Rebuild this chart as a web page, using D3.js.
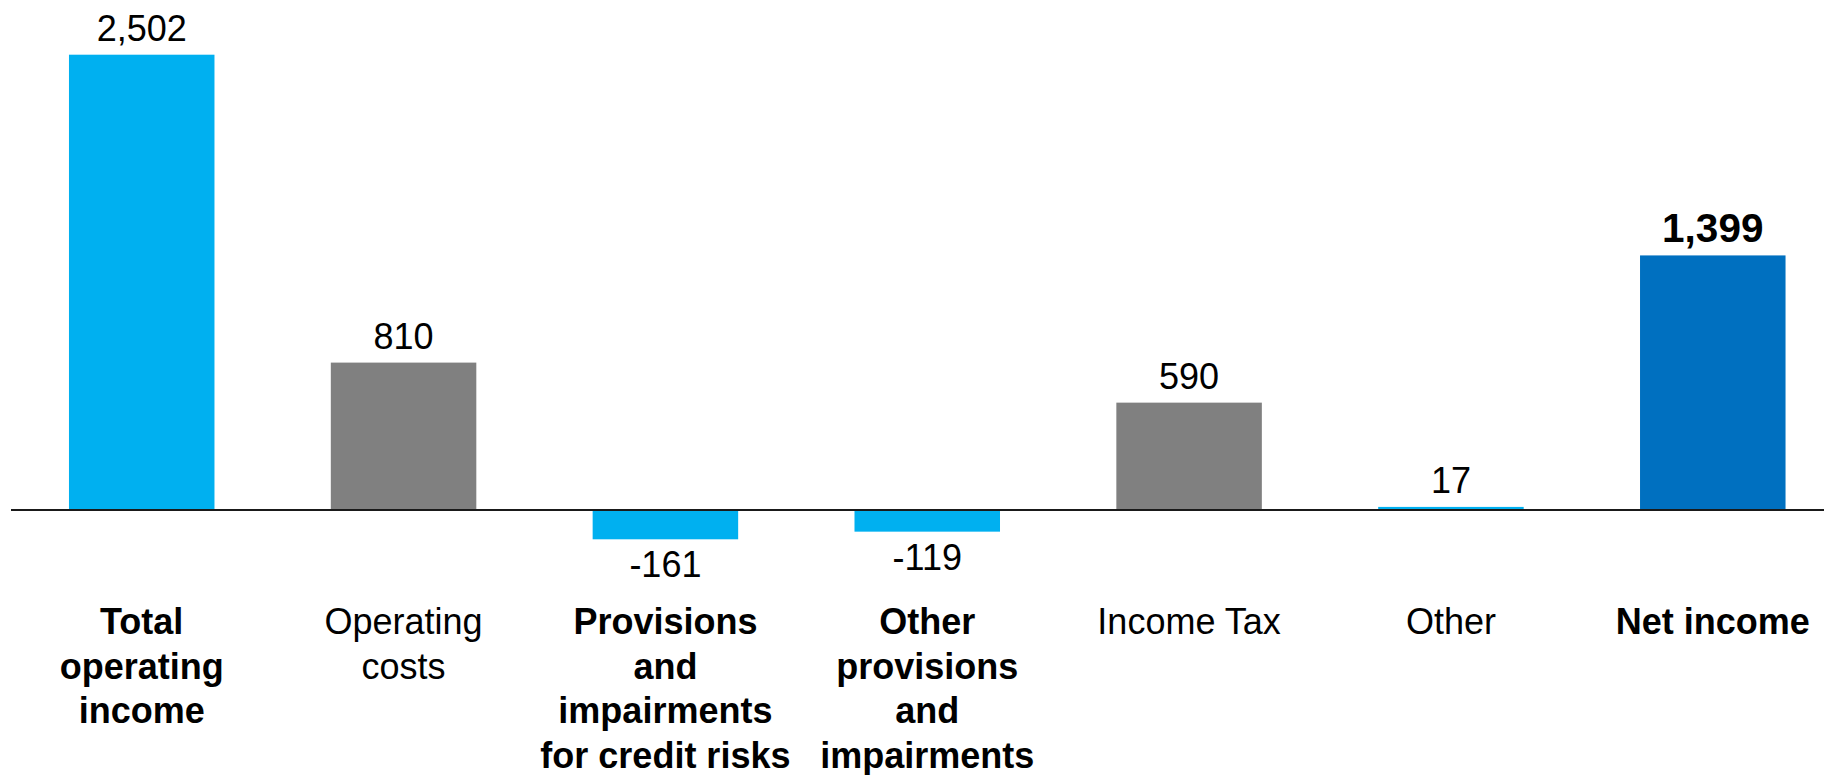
<!DOCTYPE html>
<html>
<head>
<meta charset="utf-8">
<script src="https://cdn.jsdelivr.net/npm/d3@7"></script>
<style>
  html, body { margin: 0; padding: 0; background: #fff; }
  svg { display: block; font-family: "Liberation Sans", Arial, sans-serif; }
</style>
</head>
<body>
<svg id="chart" width="1824" height="775"></svg>
<script>
// ---- data ----
const categories = [
  "Total operating income",
  "Operating costs",
  "Provisions and impairments for credit risks",
  "Other provisions and impairments",
  "Income Tax",
  "Other",
  "Net income"
];
const labelLines = [
  ["Total", "operating", "income"],
  ["Operating", "costs"],
  ["Provisions", "and", "impairments", "for credit risks"],
  ["Other", "provisions", "and", "impairments"],
  ["Income Tax"],
  ["Other"],
  ["Net income"]
];
const values = [2502, 810, -161, -119, 590, 17, 1399];
const valueLabels = ["2,502", "810", "-161", "-119", "590", "17", "1,399"];
const kinds = ["income", "cost", "income", "income", "cost", "income", "total"];

// ---- styles ----
const colorByKind = { income: "#00B0F0", cost: "#808080", total: "#0070C0" };
const boldLabel = [true, false, true, true, false, false, true];

const svg = d3.select("#chart");

const x = d3.scaleBand()
  .domain(categories)
  .range([10.8, 1843.7])
  .paddingInner(0.4443)
  .paddingOuter(0.22215);

const y = d3.scaleLinear()
  .domain([0, 2502])
  .range([510, 54.7]);

// bars
svg.append("g").selectAll("rect")
  .data(values)
  .join("rect")
  .attr("x", (d, i) => x(categories[i]))
  .attr("width", x.bandwidth())
  .attr("y", d => Math.min(y(d), y(0)))
  .attr("height", d => Math.abs(y(d) - y(0)))
  .attr("fill", (d, i) => colorByKind[kinds[i]]);

// baseline
svg.append("line")
  .attr("x1", 11).attr("x2", 1824)
  .attr("y1", y(0)).attr("y2", y(0))
  .attr("stroke", "#1a1a1a")
  .attr("stroke-width", 2);

// value labels
svg.append("g").selectAll("text")
  .data(values)
  .join("text")
  .attr("x", (d, i) => x(categories[i]) + x.bandwidth() / 2)
  .attr("y", d => d >= 0 ? y(d) - 13.5 : y(d) + 38)
  .attr("text-anchor", "middle")
  .attr("font-size", (d, i) => kinds[i] === "total" ? 40.5 : 36)
  .attr("font-weight", (d, i) => kinds[i] === "total" ? "bold" : "normal")
  .attr("fill", "#000")
  .text((d, i) => valueLabels[i]);

// category labels
const catG = svg.append("g").selectAll("text")
  .data(categories)
  .join("text")
  .attr("x", d => x(d) + x.bandwidth() / 2)
  .attr("y", 634.3)
  .attr("text-anchor", "middle")
  .attr("font-size", 36)
  .attr("font-weight", (d, i) => boldLabel[i] ? "bold" : "normal")
  .attr("fill", "#000");

catG.each(function(d, i) {
  const t = d3.select(this);
  labelLines[i].forEach((line, j) => {
    t.append("tspan")
      .attr("x", x(d) + x.bandwidth() / 2)
      .attr("dy", j === 0 ? 0 : 44.5)
      .text(line);
  });
});
</script>
</body>
</html>
